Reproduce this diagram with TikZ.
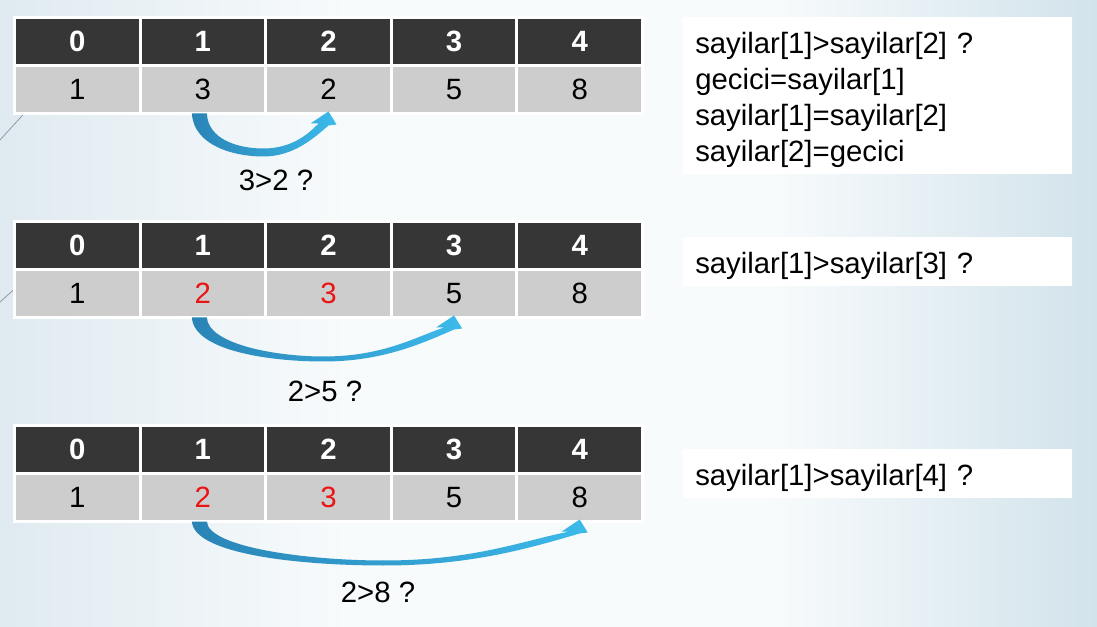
\documentclass[tikz,border=0pt]{standalone}
\usepackage{fontspec}
\setmainfont{Liberation Sans}
\usetikzlibrary{calc}
\definecolor{hdr}{HTML}{363636}
\definecolor{val}{HTML}{CDCDCD}
\definecolor{numred}{HTML}{EA1414}
\definecolor{bgl}{HTML}{DFEAF0}
\definecolor{bgm}{HTML}{F8FBFC}
\definecolor{bgr}{HTML}{D2E3EB}
\definecolor{arrowdark}{HTML}{2A84B6}
\definecolor{arrowlight}{HTML}{3BBAEA}
\definecolor{bgline}{HTML}{8C9CA6}
\pgfdeclarehorizontalshading{slidebg}{100bp}{color(0bp)=(bgl); color(25bp)=(bgl); color(41bp)=(bgm); color(60bp)=(bgm); color(75bp)=(bgr); color(100bp)=(bgr)}
\newcommand\swoosh[4]{%
 \shade[left color=arrowdark, right color=arrowlight]
 ($(#1.south)+(-11,0)$)
 .. controls ($(#1.south)+(-9,33)$) and ($(#1.south)!0.26!(#2.south)+(0,#3)$)
 .. ($(#1.south)!0.48!(#2.south)+(0,#3)$)
 .. controls ($(#1.south)!0.72!(#2.south)+(0,#3)$) and ($(#2.south)!0.12!(#1.south)+(0,25)$)
 .. ($(#2.south)+(0,12)$)
 -- ($(#2.south)+(8,11)$) -- ($(#2.south)+(0,-2)$) -- ($(#2.south)+(-18,10)$) -- ($(#2.south)+(-10,10)$)
 .. controls ($(#2.south)!0.15!(#1.south)+(0,19)$) and ($(#1.south)!0.72!(#2.south)+(0,#4)$)
 .. ($(#1.south)!0.48!(#2.south)+(0,#4)$)
 .. controls ($(#1.south)!0.28!(#2.south)+(0,#4)$) and ($(#1.south)+(5,26)$)
 .. ($(#1.south)+(4,0)$) -- cycle;
}
\tikzset{
  cellbase/.style={draw=white, line width=2.25pt, inner sep=0pt, outer sep=0pt,
    minimum width=94.2pt, minimum height=36pt, font=\fontsize{22}{26}\selectfont},
  hcell/.style={cellbase, fill=hdr, text=white, font=\fontsize{22}{26}\selectfont\bfseries},
  vcell/.style={cellbase, fill=val, text=black},
  codebox/.style={fill=white, inner sep=0pt, inner xsep=9pt, anchor=north west,
    text width=273.75pt, align=left, font=\fontsize{22}{27}\selectfont},
  linebox/.style={codebox, text height=27pt, text depth=9.75pt},
  cmplabel/.style={font=\fontsize{22}{26}\selectfont, inner sep=0pt},
  deco/.style={draw=bgline, line width=0.6pt}
}
\begin{document}
\begin{tikzpicture}[x=0.75pt,y=-0.75pt]
\useasboundingbox (0,0) rectangle (1097,627);
\shade[shading=slidebg] (0,0) rectangle (1097,627);
\draw[deco] (0,140) -- (40,96);
\draw[deco] (0,302) -- (30,275);
% tables
\foreach \t/\y in {1/17.5,2/221.5,3/425.5}{
  \foreach \c in {0,...,4}{
    \node[hcell] (h\t\c) at ({14.5+125.6*(\c+0.5)}, \y+24) {\c};
  }
}
\foreach \c/\v in {0/1,1/3,2/2,3/5,4/8}{
  \node[vcell] (v1\c) at ({14.5+125.6*(\c+0.5)}, 89.5) {\v};
}
\foreach \t/\y in {2/293.5,3/497.5}{
  \foreach \c/\v in {0/1,1/{\textcolor{numred}{2}},2/{\textcolor{numred}{3}},3/5,4/8}{
    \node[vcell] (v\t\c) at ({14.5+125.6*(\c+0.5)}, \y) {\v};
  }
}
% arrows
\swoosh{v11}{v12}{43}{35}
\swoosh{v21}{v23}{44}{39}
\swoosh{v31}{v34}{44}{39}
% labels
\node[cmplabel] (lab1) at (276,180) {3>2 ?};
\node[cmplabel] (lab2) at (325,391) {2>5 ?};
\node[cmplabel] (lab3) at (378,592) {2>8 ?};
% code boxes
\node[codebox] (box1) at (683,17)
  {\rule{0pt}{27pt}sayilar[1]>sayilar[2] ?\\gecici=sayilar[1]\\sayilar[1]=sayilar[2]\\sayilar[2]=gecici\rule[-9.75pt]{0pt}{9.75pt}};
\node[linebox] (box2) at (683,237) {sayilar[1]>sayilar[3] ?};
\node[linebox] (box3) at (683,449) {sayilar[1]>sayilar[4] ?};
\end{tikzpicture}
\end{document}
